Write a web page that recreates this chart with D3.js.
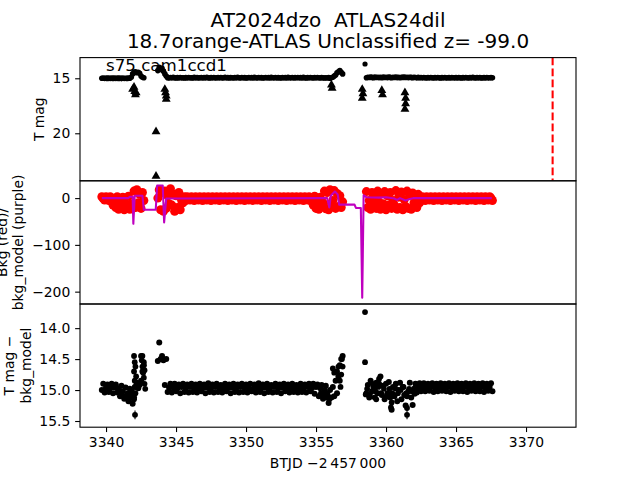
<!DOCTYPE html>
<html><head><meta charset="utf-8">
<script src="https://cdn.jsdelivr.net/npm/d3@7"></script>
<style>body{margin:0;background:#fff}svg text{font-family:"DejaVu Sans",sans-serif}</style>
</head><body><svg id="c" width="640" height="480"></svg>
<script>
// ---------- DATA ----------
const btjd=[
3339.7,3339.8,3339.9,3340.0,3340.1,3340.2,3340.3,3340.4,3340.5,3340.6,
3340.7,3340.8,3340.9,3341.0,3341.1,3341.2,3341.3,3341.4,3341.5,3341.6,
3341.7,3341.8,3341.9,3342.0,3342.1,3342.2,3342.3,3342.4,3342.5,3342.6,
3342.7,
3343.7,3343.8,3343.9,3344.0,3344.1,3344.2,3344.3,3344.4,3344.5,3344.6,
3344.7,3344.8,3344.9,3345.0,3345.1,3345.2,3345.3,3345.4,3345.5,3345.6,
3345.7,3345.8,3345.9,3346.0,3346.1,3346.2,3346.3,3346.4,3346.5,3346.6,
3346.7,3346.8,3346.9,3347.0,3347.1,3347.2,3347.3,3347.4,3347.5,3347.6,
3347.7,3347.8,3347.9,3348.0,3348.1,3348.2,3348.3,3348.4,3348.5,3348.6,
3348.7,3348.8,3348.9,3349.0,3349.1,3349.2,3349.3,3349.4,3349.5,3349.6,
3349.7,3349.8,3349.9,3350.0,3350.1,3350.2,3350.3,3350.4,3350.5,3350.6,
3350.7,3350.8,3350.9,3351.0,3351.1,3351.2,3351.3,3351.4,3351.5,3351.6,
3351.7,3351.8,3351.9,3352.0,3352.1,3352.2,3352.3,3352.4,3352.5,3352.6,
3352.7,3352.8,3352.9,3353.0,3353.1,3353.2,3353.3,3353.4,3353.5,3353.6,
3353.7,3353.8,3353.9,3354.0,3354.1,3354.2,3354.3,3354.4,3354.5,3354.6,
3354.7,3354.8,3354.9,3355.0,3355.1,3355.2,3355.3,3355.4,3355.5,3355.6,
3355.7,3355.8,3355.9,3356.0,3356.1,3356.2,3356.3,3356.4,3356.5,3356.6,
3356.7,3356.8,3356.9,
3358.6,3358.7,3358.8,3358.9,3359.0,3359.1,3359.2,3359.3,3359.4,3359.5,
3359.6,3359.7,3359.8,3359.9,3360.0,3360.1,3360.2,3360.3,3360.4,3360.5,
3360.6,3360.7,3360.8,3360.9,3361.0,3361.1,3361.2,3361.3,3361.4,3361.5,
3361.6,3361.7,3361.8,3361.9,3362.0,3362.1,3362.2,3362.3,3362.4,3362.5,
3362.6,3362.7,3362.8,3362.9,3363.0,3363.1,3363.2,3363.3,3363.4,3363.5,
3363.6,3363.7,3363.8,3363.9,3364.0,3364.1,3364.2,3364.3,3364.4,3364.5,
3364.6,3364.7,3364.8,3364.9,3365.0,3365.1,3365.2,3365.3,3365.4,3365.5,
3365.6,3365.7,3365.8,3365.9,3366.0,3366.1,3366.2,3366.3,3366.4,3366.5,
3366.6,3366.7,3366.8,3366.9,3367.0,3367.1,3367.2,3367.3,3367.4,3367.5,
3367.6];

// top panel: T mag
const tmag=[
15.00,14.98,15.02,14.99,15.01,14.97,15.02,14.98,15.01,14.99,
15.02,14.97,15.01,14.99,15.03,14.98,15.02,15.00,15.01,14.98,
15.00,14.90,14.60,14.45,14.40,14.50,14.45,14.55,14.80,14.90,
14.95,
14.30,14.00,14.20,14.10,14.35,14.60,14.80,14.95,14.97,14.93,
14.96,14.92,14.95,14.98,14.94,14.97,14.93,14.96,14.95,14.98,
14.94,14.97,14.93,14.96,14.95,14.98,14.92,14.96,14.94,14.97,
14.95,14.93,14.97,14.94,14.96,14.92,14.95,14.98,14.94,14.96,
14.93,14.97,14.95,14.94,14.96,14.93,14.97,14.95,14.92,14.96,
14.94,14.98,14.93,14.95,14.97,14.94,14.96,14.92,14.95,14.97,
14.93,14.96,14.94,14.98,14.95,14.93,14.96,14.94,14.97,14.92,
14.95,14.97,14.93,14.96,14.94,14.98,14.95,14.93,14.96,14.94,
14.97,14.92,14.95,14.96,14.93,14.97,14.94,14.95,14.98,14.93,
14.96,14.94,14.97,14.92,14.95,14.96,14.93,14.97,14.94,14.95,
14.93,14.96,14.94,14.97,14.92,14.95,14.98,14.94,14.96,14.93,
14.95,14.97,14.94,14.96,14.93,14.95,14.97,14.94,14.96,14.98,
14.95,14.97,14.94,14.99,14.96,14.90,14.80,14.70,14.50,14.40,
14.30,14.45,14.60,
14.95,14.90,14.93,14.88,14.92,14.95,14.89,14.93,14.90,14.94,
14.91,14.95,14.88,14.93,14.90,14.94,14.89,14.92,14.95,14.90,
14.93,14.89,14.94,14.91,14.95,14.90,14.92,14.88,14.93,14.91,
14.94,14.90,14.92,14.95,14.91,14.93,14.96,14.92,14.95,14.93,
14.96,14.93,14.95,14.97,14.94,14.96,14.93,14.95,14.97,14.94,
14.96,14.93,14.95,14.98,14.94,14.96,14.93,14.97,14.95,14.94,
14.97,14.93,14.95,14.96,14.94,14.97,14.93,14.95,14.98,14.94,
14.96,14.93,14.95,14.97,14.94,14.96,14.92,14.95,14.97,14.94,
14.96,14.93,14.98,14.95,14.94,14.97,14.93,14.96,14.95,14.94,
14.96];

// middle panel: background (red)
const bkg=[
3,-1,-4,3,0,-5,3,-8,-15,-4,
-20,3,-24,-10,-22,2,-25,-12,-20,4,
-24,-12,-22,15,-20,18,-10,8,-22,12,
-5,
0,18,-25,12,-28,15,-22,5,-12,20,
-15,8,-28,5,-20,12,-25,-5,-10,3,
-5,3,-1,-4,3,0,-5,3,-2,-4,
3,-1,-5,3,0,-4,3,-2,-5,3,
-1,-4,3,0,-5,3,-1,-4,3,-2,
-5,3,0,-4,3,-1,-5,3,-2,-4,
3,0,-5,3,-1,-4,3,-2,-5,3,
0,-4,3,-1,-5,3,-2,-4,3,0,
-5,3,-1,-4,3,0,-5,3,-2,-4,
3,-1,-5,3,0,-4,3,-2,-5,3,
-1,-4,3,0,-5,3,-1,-4,3,-2,
-8,-15,4,-22,-8,-24,2,-18,-10,15,
-23,12,-25,18,-12,-5,16,-22,10,-18,
5,-20,-8,
14,-20,-5,-24,12,-12,3,-22,15,-8,
-24,10,-12,14,-25,5,-15,12,-22,-5,
-15,16,-24,2,-20,13,-25,-3,-18,15,
-22,6,-24,11,-10,-8,-20,8,-10,-2,
3,-1,-5,3,0,-4,3,-2,-5,3,
-1,-4,3,0,-5,3,-1,-4,3,-2,
-5,3,0,-4,3,-1,-5,3,-2,-4,
3,0,-5,3,-1,-4,3,-2,-5,3,
0,-4,3,-1,-5,3,-2,-4,3,0,
-5];

// bottom panel: T mag - bkg_model
const tmagSub=[
15.00,14.90,15.04,14.96,14.91,15.03,14.97,14.90,15.05,14.96,
14.91,15.04,14.97,15.10,14.93,15.02,15.14,14.96,15.08,15.18,
14.98,15.12,15.22,15.12,14.95,14.88,14.97,14.92,14.85,14.70,
14.60,
14.53,14.23,14.50,14.45,14.52,14.92,14.50,15.03,14.96,14.90,
15.04,14.96,14.90,15.02,14.97,14.91,15.05,14.95,14.90,15.03,
14.97,14.91,15.04,14.95,14.90,15.03,14.98,14.91,15.04,14.96,
14.90,15.02,14.97,14.91,15.05,14.96,14.89,15.03,14.97,14.91,
15.04,14.95,14.90,15.03,14.97,14.92,15.04,14.96,14.90,15.02,
14.97,14.91,15.05,14.96,14.90,15.03,14.97,14.91,15.04,14.95,
14.90,15.03,14.96,14.91,15.04,14.97,14.90,15.02,14.98,14.91,
15.04,14.96,14.89,15.03,14.97,14.91,15.05,14.96,14.90,15.03,
14.97,14.92,15.04,14.95,14.90,15.03,14.97,14.91,15.05,14.96,
14.90,15.02,14.97,14.91,15.04,14.96,14.90,15.03,14.97,14.92,
15.04,14.96,14.90,15.03,14.97,14.91,15.04,14.95,14.90,15.02,
14.97,14.90,15.06,14.95,14.91,15.10,14.97,14.92,15.14,15.00,
14.93,15.05,15.21,15.00,15.12,14.95,15.10,14.85,15.05,14.78,
14.60,14.50,14.45,
15.05,14.92,15.12,14.85,15.02,14.95,15.12,14.88,15.05,14.90,
14.78,15.08,14.93,15.15,14.90,15.05,14.87,15.12,15.32,14.95,
15.10,14.90,15.18,15.00,14.88,15.15,14.95,15.08,15.25,15.10,
15.02,14.88,15.12,15.24,14.98,14.90,15.04,14.95,14.89,15.02,
14.95,14.89,15.02,14.96,14.90,15.01,14.95,14.89,15.03,14.96,
14.90,15.02,14.95,14.89,15.01,14.96,14.90,15.02,14.95,14.89,
15.03,14.96,14.90,15.01,14.95,14.89,15.02,14.96,14.90,15.02,
14.95,14.89,15.03,14.96,14.90,15.01,14.95,14.89,15.02,14.96,
14.90,15.02,14.95,14.89,15.03,14.96,14.90,15.01,14.95,14.89,
15.02];
const bandErr=0.03;

// bottom panel: additional observations (columns / outliers) with errors
const extraT=[3342.0,3342.05,3342.1,3342.0,3342.15,3342.05,3342.1,3342.0,3342.05,3342.07,
 3342.5,3342.55,3342.6,3342.65,3342.7,3342.75,3342.8,3342.6,3342.7,3342.75,
 3341.05,3341.25,3341.45,3341.55,3341.65,3341.75,3341.85,
 3355.35,3355.55,3355.75,3355.85,3355.95,
 3356.2,3356.3,3356.5,3356.6,3356.7,3356.8,3356.85,3356.9,3356.75,
 3358.5,3358.5,3358.55,3359.3,3359.5,3360.4,3361.5,3361.5,3360.35,
 3358.65,3358.85,3359.05,3359.25,3359.45,3359.65,3359.85,3360.05,3360.25,3360.45,
 3360.65,3360.85,3361.05,3361.25,3361.45,3361.65,3361.85,3362.05,3362.25];
const extraSub=[14.45,14.55,14.62,14.70,14.78,14.85,15.05,15.15,14.95,15.40,
 14.45,14.52,14.62,14.72,14.80,14.90,14.98,14.45,14.55,14.68,
 15.05,15.10,15.13,15.05,15.15,15.08,15.02,
 15.05,15.08,15.12,15.10,15.15,
 14.65,14.72,14.70,14.62,14.85,14.75,14.50,14.62,14.95,
 13.74,14.55,15.07,15.15,14.82,15.20,15.29,15.40,15.28,
 14.98,15.08,14.90,15.02,14.95,15.05,14.98,15.10,14.98,15.05,
 14.97,15.05,15.00,14.95,15.05,14.98,15.02,15.06,14.99];
const extraErr=[0.03,0.03,0.03,0.03,0.03,0.03,0.03,0.03,0.03,0.07,
 0.03,0.03,0.03,0.03,0.03,0.03,0.03,0.03,0.03,0.03,
 0.03,0.03,0.03,0.03,0.03,0.03,0.03,
 0.03,0.03,0.03,0.03,0.03,
 0.03,0.03,0.03,0.03,0.03,0.03,0.03,0.03,0.03,
 0.03,0.03,0.03,0.03,0.03,0.04,0.04,0.07,0.05,
 0.03,0.03,0.03,0.03,0.03,0.03,0.03,0.03,0.03,0.03,
 0.03,0.03,0.03,0.03,0.03,0.03,0.03,0.03,0.03];

// top panel: extra detections and upper limits (triangles)
const topExtraT=[3358.5];
const topExtraMag=[13.70];
const limT=[3341.9,3342.0,3342.05,3342.1,3342.15,3343.57,3343.57,3344.2,3344.25,3344.3,3344.3,
 3356.1,3356.15,3358.3,3358.35,3358.3,3359.7,3359.75,3361.35,3361.4,3361.4,3361.35];
const limMag=[16.0,15.8,16.2,16.5,16.3,19.85,23.9,16.0,16.3,16.6,16.9,
 15.6,15.9,16.0,16.4,16.8,16.1,16.5,16.3,16.8,17.3,17.8];

// middle panel: background model (purple)
const modelT=[3339.7,3341.6,3341.7,3341.9,3341.95,3342.05,3342.6,3342.7,3343.55,3343.65,3344.05,3344.15,3344.3,
 3355.8,3355.95,3356.05,3356.35,3356.55,3356.65,3357.75,3357.85,3358.2,3358.3,3358.4,3358.6,3359.5,3360.0,
 3360.6,3360.8,3361.0,3361.4,3361.7,3362.0,3367.55];
const modelBkg=[0,0,3,3,-55,5,5,-25,-25,27,27,-52,-1,
 0,-20,5,14,8,-14,-14,-21,-21,-213,6,2,1,2,
 -1,-4,0,-5,-2,0,0];

const discoveryT=3371.9;

const xTicks=[3340,3345,3350,3355,3360,3365,3370];
const topTicks=[15,20];
const midTicks=[0,-100,-200];
const botTicks=[14.0,14.5,15.0,15.5];
const titleLines=["AT2024dzo  ATLAS24dil","18.7orange-ATLAS Unclassified z= -99.0"];
const ccdLabel="s75 cam1ccd1";
const xLabel="BTJD \u22122\u2009457\u2009000";
const topLabel=["T mag"];
const midLabel=["Bkg (red)/","bkg_model (purple)"];
const botLabel=["T mag \u2212","bkg_model"];

// ---------- LAYOUT ----------
const L=80,R=576,T0=57.6,T1=180.8,T2=304,T3=427.2;
const FS=13.9, TICK=4.86, PAD=4.86, LW=1.1;
const x=d3.scaleLinear().domain([3338.14,3373.57]).range([L,R]);
const yTop=d3.scaleLinear().domain([13.12,24.32]).range([T0,T1]);
const yMid=d3.scaleLinear().domain([37,-226.4]).range([T1,T2]);
const yBot=d3.scaleLinear().domain([13.61,15.6]).range([T2,T3]);

const svg=d3.select("#c");
svg.append("rect").attr("width",640).attr("height",480).attr("fill","#fff");
const defs=svg.append("defs");
function panel(id,top,bot){
  defs.append("clipPath").attr("id",id).append("rect").attr("x",L).attr("y",top).attr("width",R-L).attr("height",bot-top);
  const g=svg.append("g");
  g.append("rect").attr("x",L).attr("y",top).attr("width",R-L).attr("height",bot-top).attr("fill","#fff");
  return g.append("g").attr("clip-path",`url(#${id})`);
}
const idx=d3.range(btjd.length);
const tri=d3.symbol().type(d3.symbolTriangle).size(34);

// top panel
const pTop=panel("cTop",T0,T1);
pTop.selectAll("circle.m").data(idx.filter(i=>tmag[i]!=null)).join("circle")
  .attr("cx",i=>x(btjd[i])).attr("cy",i=>yTop(tmag[i])).attr("r",2.8).attr("fill","#000");
pTop.selectAll("circle.e").data(d3.range(topExtraT.length)).join("circle").attr("class","e")
  .attr("cx",i=>x(topExtraT[i])).attr("cy",i=>yTop(topExtraMag[i])).attr("r",2.6).attr("fill","#000");
pTop.selectAll("path.t").data(d3.range(limT.length)).join("path").attr("class","t")
  .attr("d",tri).attr("transform",i=>`translate(${x(limT[i])},${yTop(limMag[i])})`).attr("fill","#000");
pTop.append("line").attr("x1",x(discoveryT)).attr("x2",x(discoveryT)).attr("y1",T0).attr("y2",T1)
  .attr("stroke","#ff0000").attr("stroke-width",2.08).attr("stroke-dasharray","7.7,3.3");

// middle panel
const pMid=panel("cMid",T1,T2);
pMid.selectAll("circle").data(idx.filter(i=>bkg[i]!=null)).join("circle")
  .attr("cx",i=>x(btjd[i])).attr("cy",i=>yMid(bkg[i])).attr("r",4.5).attr("fill","#ff0000");
pMid.append("path").datum(d3.range(modelT.length))
  .attr("d",d3.line().x(i=>x(modelT[i])).y(i=>yMid(modelBkg[i])))
  .attr("fill","none").attr("stroke","#bf00bf").attr("stroke-width",2.08).attr("stroke-linejoin","round");

// bottom panel
const pBot=panel("cBot",T2,T3);
const bIdx=idx.filter(i=>tmagSub[i]!=null);
const eIdx=d3.range(extraT.length);
pBot.selectAll("line.b").data(bIdx).join("line").attr("class","b")
  .attr("x1",i=>x(btjd[i])).attr("x2",i=>x(btjd[i]))
  .attr("y1",i=>yBot(tmagSub[i]-bandErr)).attr("y2",i=>yBot(tmagSub[i]+bandErr))
  .attr("stroke","#000").attr("stroke-width",1.1);
pBot.selectAll("line.x").data(eIdx).join("line").attr("class","x")
  .attr("x1",i=>x(extraT[i])).attr("x2",i=>x(extraT[i]))
  .attr("y1",i=>yBot(extraSub[i]-extraErr[i])).attr("y2",i=>yBot(extraSub[i]+extraErr[i]))
  .attr("stroke","#000").attr("stroke-width",1.1);
pBot.selectAll("circle.b").data(bIdx).join("circle").attr("class","b")
  .attr("cx",i=>x(btjd[i])).attr("cy",i=>yBot(tmagSub[i])).attr("r",3).attr("fill","#000");
pBot.selectAll("circle.x").data(eIdx).join("circle").attr("class","x")
  .attr("cx",i=>x(extraT[i])).attr("cy",i=>yBot(extraSub[i])).attr("r",2.9).attr("fill","#000");

// frames
[[T0,T1],[T1,T2],[T2,T3]].forEach(([a,b])=>{
  svg.append("rect").attr("x",L).attr("y",a).attr("width",R-L).attr("height",b-a)
    .attr("fill","none").attr("stroke","#000").attr("stroke-width",LW);
});

// axes
function styleAxis(g){
  g.select(".domain").remove();
  g.attr("font-family","DejaVu Sans").attr("font-size",FS);
  g.selectAll(".tick line").attr("stroke","#000").attr("stroke-width",LW);
  g.selectAll(".tick text").attr("fill","#000");
}
function yAxis(scale,ticks,fmt){
  const g=svg.append("g").attr("transform",`translate(${L},0)`)
    .call(d3.axisLeft(scale).tickValues(ticks).tickFormat(fmt).tickSize(TICK).tickPadding(PAD));
  styleAxis(g);
}
yAxis(yTop,topTicks,d3.format("d"));
yAxis(yMid,midTicks,d3.format("d"));
yAxis(yBot,botTicks,d3.format(".1f"));
const gx=svg.append("g").attr("transform",`translate(0,${T3})`)
  .call(d3.axisBottom(x).tickValues(xTicks).tickFormat(d3.format("d")).tickSize(TICK).tickPadding(PAD));
styleAxis(gx);

// texts
function rotLabel(lines,baseX,cy){
  lines.forEach((s,k)=>{
    const bx=baseX-(lines.length-1-k)*16.7;
    svg.append("text").attr("transform",`translate(${bx},${cy}) rotate(-90)`)
      .attr("text-anchor","middle").attr("font-size",FS).attr("fill","#000").text(s);
  });
}
rotLabel(topLabel,43.7,(T0+T1)/2);
rotLabel(midLabel,23.2,(T1+T2)/2);
rotLabel(botLabel,30.5,(T2+T3)/2);

svg.append("text").attr("x",(L+R)/2).attr("y",467.5).attr("text-anchor","middle")
  .attr("font-size",FS).attr("fill","#000").text(xLabel);
titleLines.forEach((s,k)=>{
  svg.append("text").attr("x",(L+R)/2).attr("y",26.5+k*21.8).attr("text-anchor","middle")
    .attr("font-size",20).attr("fill","#000").style("white-space","pre").text(s);
});
svg.append("text").attr("x",x(3340)).attr("y",70.7).attr("font-size",16.67).attr("fill","#000").text(ccdLabel);
</script></body></html>
